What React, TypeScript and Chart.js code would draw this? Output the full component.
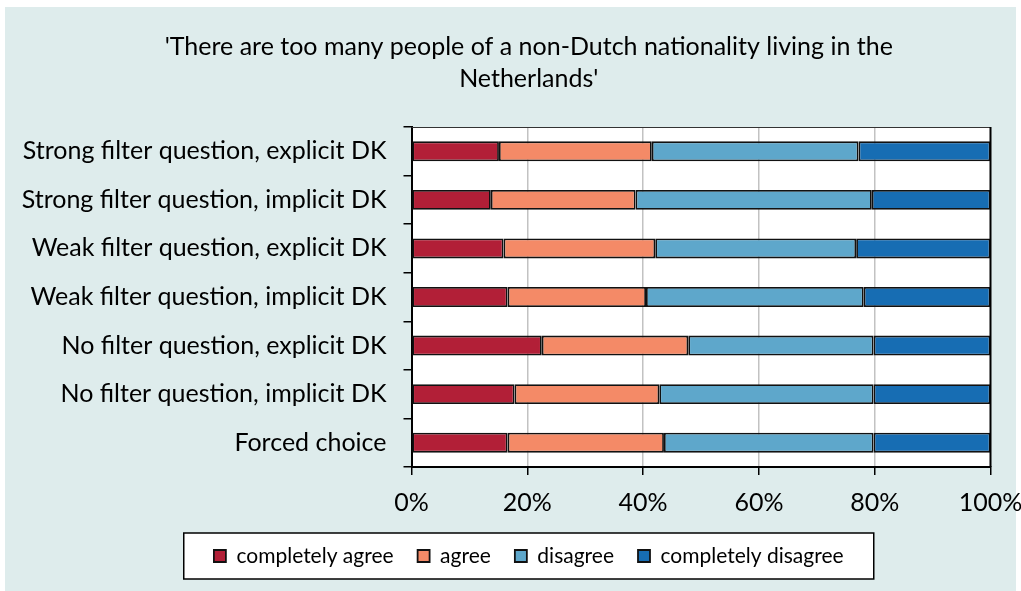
import React, { useEffect, useRef } from "react";
import { Chart, registerables } from "chart.js";

Chart.register(...registerables);

const categories = [
  "Strong filter question, explicit DK",
  "Strong filter question, implicit DK",
  "Weak filter question, explicit DK",
  "Weak filter question, implicit DK",
  "No filter question, explicit DK",
  "No filter question, implicit DK",
  "Forced choice",
];
const completelyAgree = [15.1, 13.7, 15.9, 16.6, 22.5, 17.8, 16.6];
const agree = [26.4, 25.0, 26.2, 23.9, 25.3, 25.0, 27.0];
const disagree = [35.7, 40.8, 34.7, 37.6, 32.0, 37.0, 36.2];
const completelyDisagree = [22.8, 20.5, 23.2, 21.9, 20.2, 20.2, 20.2];
const seriesNames = ["completely agree", "agree", "disagree", "completely disagree"];
const seriesColors = ["#b21f37", "#f48a67", "#5ea7cb", "#176db3"];
const xTickValues = [0, 20, 40, 60, 80, 100];
const titleLines = [
  "'There are too many people of a non-Dutch nationality living in the",
  "Netherlands'",
];

const FONT = "Lato, 'Open Sans', sans-serif";

const decorPlugin = {
  id: "decor",
  afterLayout(chart: any) {
    const boxes = [chart.titleBlock, chart.legend];
    boxes.forEach((b: any) => {
      if (!b) return;
      b.left = 67;
      b.right = 990.5;
      b.width = b.right - b.left;
    });
  },
  beforeDraw(chart: any) {
    const { ctx, chartArea } = chart;
    ctx.save();
    ctx.fillStyle = "#deecec";
    ctx.fillRect(5, 7, 1011, 584);
    ctx.fillStyle = "#ffffff";
    ctx.fillRect(chartArea.left, chartArea.top, chartArea.right - chartArea.left, chartArea.bottom - chartArea.top);
    const lg = chart.legend;
    if (lg && lg.legendHitBoxes && lg.legendHitBoxes.length) {
      const hb = lg.legendHitBoxes;
      let minL = Infinity, maxR = -Infinity, cy = 0;
      hb.forEach((b: any) => {
        minL = Math.min(minL, b.left);
        maxR = Math.max(maxR, b.left + b.width);
        cy += b.top + b.height / 2;
      });
      cy /= hb.length;
      const cx = (minL + maxR) / 2;
      const w = 690, h = 46;
      ctx.fillStyle = "#ffffff";
      ctx.fillRect(cx - w / 2, cy - h / 2, w, h);
      ctx.strokeStyle = "#000000";
      ctx.lineWidth = 1.5;
      ctx.strokeRect(cx - w / 2, cy - h / 2, w, h);
    }
    ctx.restore();
  },
  afterDraw(chart: any) {
    const { ctx, chartArea } = chart;
    ctx.save();
    ctx.strokeStyle = "#333333";
    ctx.lineWidth = 1;
    ctx.beginPath();
    ctx.moveTo(chartArea.left, chartArea.top + 0.5);
    ctx.lineTo(chartArea.right, chartArea.top + 0.5);
    ctx.stroke();
    ctx.strokeStyle = "#000000";
    ctx.lineWidth = 2;
    ctx.beginPath();
    ctx.moveTo(chartArea.right, chartArea.top);
    ctx.lineTo(chartArea.right, chartArea.bottom);
    ctx.stroke();
    ctx.restore();
  },
};

export default function App() {
  const ref = useRef<HTMLCanvasElement | null>(null);
  useEffect(() => {
    if (!ref.current) return;
    const values = [completelyAgree, agree, disagree, completelyDisagree];
    const chart = new Chart(ref.current, {
      type: "bar",
      data: {
        labels: categories,
        datasets: seriesNames.map((name, i) => ({
          label: name,
          data: values[i],
          backgroundColor: seriesColors[i],
          borderColor: "#111111",
          borderWidth: 1.8,
          borderSkipped: false,
          barPercentage: 0.41,
          categoryPercentage: 1,
        })),
      },
      options: {
        indexAxis: "y",
        responsive: false,
        animation: false,
        devicePixelRatio: 1,
        layout: { padding: { left: 12, right: 30.5, top: 0, bottom: 14.5 } },
        scales: {
          x: {
            stacked: true,
            min: 0,
            max: 100,
            afterBuildTicks(scale: any) {
              scale.ticks = xTickValues.map((v) => ({ value: v }));
            },
            afterFit(scale: any) {
              scale.height = 54.5;
              scale.paddingLeft = 0;
              scale.paddingRight = 0;
            },
            ticks: {
              callback: (v: any) => v + "%",
              color: "#000000",
              font: { family: FONT, size: 25 },
              padding: 13,
              maxRotation: 0,
            },
            grid: {
              color: (c: any) => (c.index === 0 || c.index === 5 ? "rgba(0,0,0,0)" : "#c2c2c2"),
              lineWidth: 1.5,
              tickColor: "#000000",
              tickLength: 8,
              drawTicks: true,
            },
            border: { color: "#000000", width: 2 },
          },
          y: {
            stacked: true,
            afterFit(scale: any) {
              scale.width = 411.5 - 12;
            },
            ticks: {
              color: "#000000",
              font: { family: FONT, size: 25 },
              padding: 17,
            },
            grid: {
              offset: true,
              drawOnChartArea: false,
              drawTicks: true,
              tickLength: 8,
              tickColor: "#000000",
              lineWidth: 1.5,
            },
            border: { color: "#000000", width: 2 },
          },
        },
        plugins: {
          tooltip: { enabled: false },
          title: {
            display: true,
            text: titleLines,
            color: "#000000",
            font: { family: FONT, size: 25, weight: "normal", lineHeight: 1.28 },
            padding: { top: 31, bottom: 32 },
          },
          legend: {
            display: true,
            position: "bottom",
            labels: {
              boxWidth: 12,
              boxHeight: 12,
              color: "#000000",
              padding: 24,
              font: { family: FONT, size: 21 },
              useBorderRadius: false,
            },
          },
        },
      },
      plugins: [decorPlugin],
    } as any);
    return () => chart.destroy();
  }, []);
  return (
    <div style={{ position: "absolute", left: 0, top: 0, width: 1021, height: 591 }}>
      <canvas ref={ref} width={1021} height={591} />
    </div>
  );
}
